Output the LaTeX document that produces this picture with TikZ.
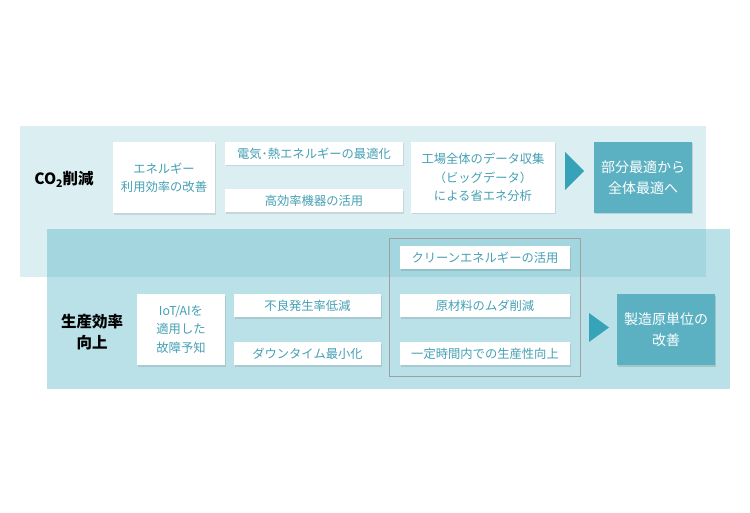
\documentclass[tikz,border=0pt]{standalone}
\usepackage{fontspec}
\setmainfont{Noto Sans CJK JP}
\usetikzlibrary{shadows}
\definecolor{bandA}{HTML}{DBEFF3}
\definecolor{bandB}{HTML}{B9E1E7}
\definecolor{bandAB}{HTML}{A3D6DF}
\definecolor{txtc}{HTML}{45A0B4}
\definecolor{darkbox}{HTML}{5BB1C2}
\definecolor{arrowc}{HTML}{36A3B8}
\definecolor{framec}{HTML}{A0A0A0}
\tikzset{
  wbox/.style={fill=white, draw=none, inner sep=0pt, align=center, text=txtc,
    font=\fontsize{12.3}{18.5}\selectfont,
    drop shadow={shadow xshift=1pt, shadow yshift=-1.5pt, opacity=0.10, fill=black}},
  dbox/.style={fill=darkbox, draw=none, inner sep=0pt, align=center, text=white,
    font=\fontsize{14}{21}\selectfont,
    drop shadow={shadow xshift=1pt, shadow yshift=-1.5pt, opacity=0.12, fill=black}},
  lbl/.style={align=center, text=black, font=\fontsize{15.5}{21}\selectfont\bfseries},
  tri/.style={fill=arrowc, draw=none}
}
\begin{document}
\begin{tikzpicture}[x=1pt,y=-1pt]
\useasboundingbox (0,0) rectangle (750,513);
\fill[white] (0,0) rectangle (750,513);
% bands
\fill[bandA] (20,126) rectangle (706,277);
\fill[bandB] (47,229) rectangle (730,389);
\fill[bandAB] (47,229) rectangle (706,277);
% CO2 row
\node[lbl] (lco) at (64,179) {CO\raisebox{-0.35ex}{\fontsize{10.5}{10}\selectfont 2}削減};
\node[wbox, minimum width=102pt, minimum height=71pt] (e1) at (164,178) {エネルギー\\利用効率の改善};
\node[wbox, minimum width=178pt, minimum height=23pt] (e2) at (314,153.5) {電気･熱エネルギーの最適化};
\node[wbox, minimum width=178pt, minimum height=23pt] (e3) at (314,201) {高効率機器の活用};
\node[wbox, minimum width=144pt, minimum height=71pt] (e4) at (483,177.5) {工場全体のデータ収集\\（ビッグデータ）\\による省エネ分析};
\fill[tri] (565,152) -- (584,171) -- (565,190) -- cycle;
\node[dbox, minimum width=98pt, minimum height=71pt] (g1) at (643,177.5) {部分最適から\\全体最適へ};
% production row
\node[lbl] (lpr) at (92,332) {生産効率\\向上};
\node[wbox, minimum width=88pt, minimum height=71pt] (p1) at (181,329.5) {IoT/AIを\\適用した\\故障予知};
\node[wbox, minimum width=147pt, minimum height=23pt] (p2) at (307.5,305.5) {不良発生率低減};
\node[wbox, minimum width=147pt, minimum height=23pt] (p3) at (307.5,353.5) {ダウンタイム最小化};
\draw[framec, line width=0.8pt] (389,238) rectangle (580,376);
\node[wbox, minimum width=170pt, minimum height=23pt] (c1) at (485,258) {クリーンエネルギーの活用};
\node[wbox, minimum width=170pt, minimum height=23pt] (c2) at (485,305.5) {原材料のムダ削減};
\node[wbox, minimum width=170pt, minimum height=23pt] (c3) at (485,353.5) {一定時間内での生産性向上};
\fill[tri] (589,313) -- (609,327.5) -- (589,342) -- cycle;
\node[dbox, minimum width=98pt, minimum height=71pt] (g2) at (666,329.5) {製造原単位の\\改善};
\end{tikzpicture}
\end{document}
